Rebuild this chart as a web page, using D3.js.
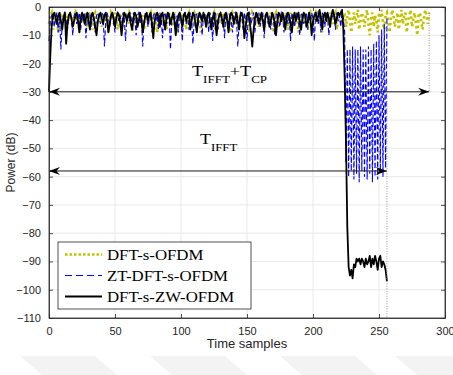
<!DOCTYPE html>
<html>
<head>
<meta charset="utf-8">
<script src="https://cdn.jsdelivr.net/npm/d3@7"></script>
<style>
  body { margin: 0; background: #fff; }
  svg { display: block; }
</style>
</head>
<body>
<div id="chart"></div>
<script>
// Time-domain power of one symbol, one value per sample (x = sample index)
const dftSOfdm = [
  -6,-3,-2,-8,-4,-2,-5,-9,-3,-2,-6,-4,-2,-7,-3,-5,-2,-4,-8,-3,
  -2,-5,-3,-9,-4,-2,-6,-3,-2,-7,-4,-2,-5,-8,-3,-2,-4,-6,-2,-3,
  -7,-4,-2,-5,-3,-9,-5,-2,-3,-6,-2,-4,-8,-3,-2,-5,-7,-3,-2,-4,
  -6,-2,-3,-9,-5,-2,-4,-7,-3,-2,-5,-3,-8,-4,-2,-6,-3,-2,-7,-4,
  -2,-5,-9,-3,-2,-4,-6,-3,-2,-8,-4,-2,-5,-3,-7,-2,-4,-9,-5,-2,
  -3,-6,-2,-4,-8,-3,-2,-5,-7,-3,-2,-4,-6,-2,-3,-9,-4,-2,-5,-3,
  -7,-2,-4,-6,-3,-2,-8,-5,-2,-3,-6,-4,-2,-7,-3,-2,-5,-9,-4,-2,
  -3,-6,-2,-4,-8,-3,-2,-5,-7,-3,-2,-4,-9,-5,-2,-3,-6,-2,-4,-7,
  -3,-2,-5,-8,-4,-2,-3,-6,-2,-4,-9,-3,-2,-5,-7,-3,-2,-4,-6,-2,
  -3,-8,-4,-2,-5,-3,-7,-2,-4,-9,-5,-2,-3,-6,-2,-4,-8,-3,-2,-5,
  -7,-3,-2,-4,-6,-2,-3,-9,-4,-2,-5,-3,-7,-2,-4,-6,-3,-2,-8,-5,
  -2,-3,-6,-4,-2,-7,-3,-1,-5,-9,-4,-2,-6,-3,-1,-8,-5,-2,-4,-7,
  -3,-1,-6,-10,-4,-2,-7,-3,-5,-9,-2,-4,-1,-6,-8,-3,-2,-5,-9,-4,
  -1,-3,-7,-5,-2,-8,-4,-1,-6,-3,-2,-9,-5,-3,-1,-7,-4,-2,-6,-10,
  -3,-2,-5,-8,-4,-1,-3,-6,-2
];

const ztDftSOfdm = [
  -12,-5,-3,-2,-7,-4,-2,-9,-3,-15,-6,-3,-2,-5,-8,-3,-2,-4,-10,-3,
  -2,-6,-4,-2,-8,-3,-5,-2,-11,-4,-2,-3,-7,-2,-5,-9,-3,-2,-4,-6,
  -2,-3,-14,-5,-2,-4,-7,-3,-2,-6,-9,-3,-2,-5,-3,-8,-2,-4,-12,-3,
  -2,-5,-3,-7,-2,-4,-10,-3,-2,-6,-3,-14,-5,-2,-3,-7,-4,-2,-9,-3,
  -2,-5,-3,-8,-2,-4,-11,-3,-2,-6,-4,-2,-15,-5,-3,-2,-7,-3,-9,-2,
  -4,-12,-3,-2,-6,-3,-8,-2,-4,-13,-5,-2,-3,-7,-2,-4,-10,-3,-2,-6,
  -3,-9,-2,-4,-12,-3,-2,-5,-8,-3,-2,-6,-4,-11,-2,-3,-7,-2,-5,-9,
  -3,-2,-4,-14,-6,-2,-3,-8,-2,-5,-12,-3,-2,-6,-4,-2,-9,-3,-5,-2,
  -7,-3,-2,-11,-4,-2,-6,-3,-8,-2,-4,-10,-3,-2,-5,-7,-2,-3,-9,-4,
  -2,-6,-3,-12,-2,-4,-7,-3,-2,-5,-10,-3,-2,-6,-4,-2,-8,-3,-5,-2,
  -4,-12,-3,-2,-6,-3,-9,-2,-4,-7,-2,-3,-10,-5,-2,-4,-3,-8,-2,-5,
  -3,-7,-2,-4,-9,
  -55,-15,-60,-15,-58,-14,-61,-15,-59,-15,-62,-14,-58,-15,-60,-15,
  -61,-14,-59,-15,-62,-13,-60,-12,-61,-10,-58,-8,-60,-6,-57,-4
];

const dftSZwOfdm = [
  -30,-17,-7,-3,-2,-4,-6,-3,-2,-5,
  -8,-4,-2,-13,-6,-3,-2,-4,-7,-5,
  -3,-2,-5,-9,-4,-2,-3,-6,-4,-2,
  -5,-8,-3,-2,-4,-7,-10,-5,-3,-2,
  -4,-6,-3,-2,-5,-9,-6,-3,-2,-4,
  -7,-4,-2,-3,-6,-10,-5,-2,-3,-5,
  -3,-2,-6,-8,-4,-2,-3,-7,-5,-2,
  -4,-9,-6,-3,-2,-5,-3,-2,-6,-11,
  -5,-3,-2,-4,-7,-3,-2,-5,-8,-4,
  -2,-3,-6,-4,-2,-5,-10,-6,-3,-2,
  -4,-7,-3,-2,-5,-3,-2,-8,-5,-2,
  -3,-6,-9,-4,-2,-3,-5,-2,-4,-7,
  -3,-2,-5,-8,-4,-2,-6,-10,-5,-3,
  -2,-4,-7,-3,-2,-5,-9,-4,-2,-3,
  -6,-4,-2,-5,-8,-3,-2,-4,-11,-7,
  -3,-2,-5,-9,-14,-8,-4,-2,-3,-6,
  -4,-2,-5,-8,-3,-2,-4,-7,-5,-2,
  -3,-6,-10,-5,-2,-3,-5,-2,-4,-8,
  -4,-2,-3,-6,-9,-4,-2,-5,-3,-2,
  -6,-8,-4,-2,-3,-7,-5,-2,-4,-10,
  -5,-3,-2,-5,-3,-1,-4,-8,-3,-2,
  -5,-2,-4,-7,-3,-1,-3,-6,-4,-2,
  -3,-2,-1,-8,-25,-48,-78,-92,
  -95,-93,-96,-91,-92,-89,-90,-89,-91,-89,
  -90,-92,-89,-91,-90,-88,-92,-89,-91,-88,
  -90,-93,-89,-88,-92,-90,-91,-93,-97
];

const seriesNames = ["DFT-s-OFDM", "ZT-DFT-s-OFDM", "DFT-s-ZW-OFDM"];
const xTicks = [0, 50, 100, 150, 200, 250, 300];
const yTicks = [0, -10, -20, -30, -40, -50, -60, -70, -80, -90, -100, -110];

// annotation positions in data units
const nIfft = 256;
const nTotal = 288;
const arrowTotalLevel = -30;
const arrowIfftLevel = -58;

const W = 453, H = 375;
const margin = { top: 7, right: 8, bottom: 57, left: 49 };
const iw = W - margin.left - margin.right;
const ih = H - margin.top - margin.bottom;

const svg = d3.select("#chart").append("svg")
  .attr("width", W).attr("height", H)
  .style("font-family", "'Liberation Sans', Arial, sans-serif");

// faint watermark at the bottom of the page
const wm = svg.append("g").attr("fill", "#f3f3f3");
[[20, 95], [150, 225], [280, 355], [395, 453]].forEach(([a, b]) => {
  wm.append("path").attr("d", `M${a},356 L${b},356 L${b + 22},375 L${a + 22},375 Z`);
});

const g = svg.append("g").attr("transform", `translate(${margin.left},${margin.top})`);

const x = d3.scaleLinear().domain([0, 300]).range([0, iw]);
const y = d3.scaleLinear().domain([-110, 0]).range([ih, 0]);

// grid
g.append("g").selectAll("line").data(xTicks.slice(1, -1)).join("line")
  .attr("x1", d => x(d)).attr("x2", d => x(d)).attr("y1", 0).attr("y2", ih)
  .attr("stroke", "#e3e3e3").attr("stroke-width", 0.8);
g.append("g").selectAll("line").data(yTicks.slice(1, -1)).join("line")
  .attr("y1", d => y(d)).attr("y2", d => y(d)).attr("x1", 0).attr("x2", iw)
  .attr("stroke", "#e3e3e3").attr("stroke-width", 0.8);

// curves
const line = d3.line().x((d, i) => x(i)).y(d => y(d));

g.append("path").datum(dftSOfdm).attr("d", line)
  .attr("fill", "none").attr("stroke", "#c2c200").attr("stroke-width", 2.6)
  .attr("stroke-dasharray", "2.5,3");

g.append("path").datum(ztDftSOfdm).attr("d", line)
  .attr("fill", "none").attr("stroke", "#0000ff").attr("stroke-width", 1.1)
  .attr("stroke-dasharray", "5,2.5");

g.append("path").datum(dftSZwOfdm).attr("d", line)
  .attr("fill", "none").attr("stroke", "#000").attr("stroke-width", 1.8)
  .attr("stroke-linejoin", "round");

// dotted markers of symbol ends
g.append("line")
  .attr("x1", x(nIfft)).attr("x2", x(nIfft))
  .attr("y1", y(ztDftSOfdm[nIfft])).attr("y2", y(-110))
  .attr("stroke", "#888").attr("stroke-width", 0.9).attr("stroke-dasharray", "1,1.5");
g.append("line")
  .attr("x1", x(nTotal)).attr("x2", x(nTotal))
  .attr("y1", y(dftSOfdm[nTotal])).attr("y2", y(arrowTotalLevel))
  .attr("stroke", "#888").attr("stroke-width", 0.9).attr("stroke-dasharray", "1,1.5");

// double arrows
function arrowHead(px, py, dir) {
  const L = 11, Wd = 4, back = 3.5;
  return `M${px},${py} L${px + dir * L},${py - Wd} L${px + dir * (L - back)},${py} L${px + dir * L},${py + Wd} Z`;
}
function doubleArrow(x0, x1, yv) {
  const a = g.append("g");
  a.append("line").attr("x1", x(x0)).attr("x2", x(x1))
    .attr("y1", y(yv)).attr("y2", y(yv))
    .attr("stroke", "#1a1a1a").attr("stroke-width", 1);
  a.append("path").attr("d", arrowHead(x(x0), y(yv), 1)).attr("fill", "#000");
  a.append("path").attr("d", arrowHead(x(x1), y(yv), -1)).attr("fill", "#000");
}
doubleArrow(0, nTotal, arrowTotalLevel);
doubleArrow(0, nIfft, arrowIfftLevel);

// annotation labels (serif text looks horizontally stretched in the reference)
const tFont = "'Liberation Serif', 'Times New Roman', serif";
const lab1 = g.append("text").attr("transform", "translate(143,69) scale(1.3,1)")
  .style("font-family", tFont).style("font-size", "14px").attr("fill", "#000");
lab1.append("tspan").text("T");
lab1.append("tspan").attr("dy", 7).style("font-size", "10px").text("IFFT");
lab1.append("tspan").attr("dy", -7).text("+T");
lab1.append("tspan").attr("dy", 7).style("font-size", "10px").text("CP");

const lab2 = g.append("text").attr("transform", "translate(151,137) scale(1.28,1)")
  .style("font-family", tFont).style("font-size", "14px").attr("fill", "#000");
lab2.append("tspan").text("T");
lab2.append("tspan").attr("dy", 7).style("font-size", "10px").text("IFFT");

// axes box and ticks (inward)
const axisColor = "#262626";
g.append("rect").attr("width", iw).attr("height", ih)
  .attr("fill", "none").attr("stroke", axisColor).attr("stroke-width", 0.8);

g.append("g").attr("transform", `translate(0,${ih})`)
  .call(d3.axisBottom(x).tickValues(xTicks).tickSizeInner(-4).tickSizeOuter(0).tickPadding(9));
g.append("g")
  .call(d3.axisLeft(y).tickValues(yTicks).tickSizeInner(-4).tickSizeOuter(0).tickPadding(8));
g.append("g").attr("transform", `translate(${iw},0)`)
  .call(d3.axisRight(y).tickValues(yTicks).tickSizeInner(-4).tickSizeOuter(0).tickFormat(""));
g.append("g")
  .call(d3.axisTop(x).tickValues(xTicks).tickSizeInner(-4).tickSizeOuter(0).tickFormat(""));

g.selectAll(".domain").attr("stroke", axisColor).attr("stroke-width", 0.8);
g.selectAll(".tick line").attr("stroke", axisColor).attr("stroke-width", 0.8);
g.selectAll(".tick text").attr("fill", axisColor)
  .style("font-family", "'Liberation Sans', Arial, sans-serif").style("font-size", "11px");

svg.append("text").attr("x", margin.left + iw / 2).attr("y", 348)
  .attr("text-anchor", "middle").attr("fill", axisColor).style("font-size", "13px")
  .text("Time samples");
svg.append("text").attr("transform", `translate(14.5,${margin.top + ih / 2}) rotate(-90)`)
  .attr("text-anchor", "middle").attr("fill", axisColor).style("font-size", "12px")
  .text("Power (dB)");

// legend
const legend = g.append("g").attr("transform", "translate(9,235)");
legend.append("rect").attr("width", 193).attr("height", 67)
  .attr("fill", "#fff").attr("stroke", axisColor).attr("stroke-width", 0.8);
const legendStyles = [
  { stroke: "#c2c200", width: 2.6, dash: "2.5,2" },
  { stroke: "#0000ff", width: 1.1, dash: "7,4" },
  { stroke: "#000", width: 1.8, dash: null }
];
seriesNames.forEach((name, i) => {
  const ly = 18 + i * 21;
  legend.append("line").attr("x1", 7).attr("x2", 44).attr("y1", ly - 5.5).attr("y2", ly - 5.5)
    .attr("stroke", legendStyles[i].stroke).attr("stroke-width", legendStyles[i].width)
    .attr("stroke-dasharray", legendStyles[i].dash);
  legend.append("text").attr("transform", `translate(49,${ly}) scale(1.2,1)`)
    .style("font-family", tFont).style("font-size", "14px").attr("fill", "#000")
    .text(name);
});
</script>
</body>
</html>
